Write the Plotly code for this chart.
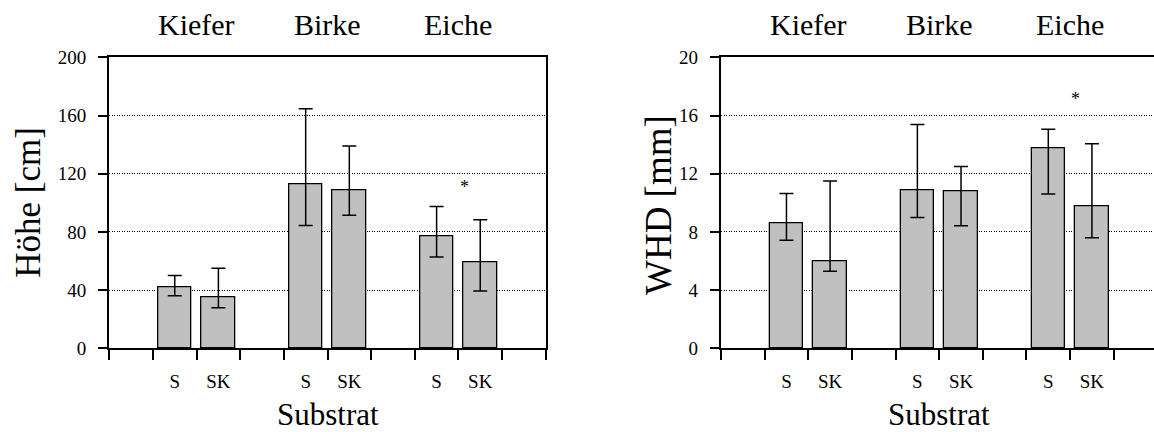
import plotly.graph_objects as go

# ---- data ----
groups = ["Kiefer", "Birke", "Eiche"]
substrates = ["S", "SK"]

hoehe_mean = [42, 35, 113, 108.5, 77, 59]
hoehe_upper = [50, 55, 164.7, 139, 97.5, 88.3]
hoehe_lower = [36.2, 27.8, 84.4, 91.5, 62.8, 39.4]

whd_mean = [8.6, 6.0, 10.87, 10.76, 13.78, 9.79]
whd_upper = [10.64, 11.49, 15.39, 12.5, 15.05, 14.06]
whd_lower = [7.43, 5.3, 8.99, 8.42, 10.6, 7.59]

hoehe_ticks = [0, 40, 80, 120, 160, 200]
whd_ticks = [0, 4, 8, 12, 16, 20]

# significance markers: (group index, value)
hoehe_sig = [(2, 111)]
whd_sig = [(2, 17.1)]

# ---- layout helpers ----
W, H = 1154, 432
FONT = "Liberation Serif, Times New Roman, serif"
slot_px = 43.64
left_x0, right_x0 = 109.3, 721.0
y_top, y_bot = 57.3, 348.3

# slot positions: each group takes 3 slots, bars in the 2nd and 3rd slot
xpos = []
labels = []
for g in range(len(groups)):
    for s, name in enumerate(substrates):
        xpos.append(1.5 + 3 * g + s)
        labels.append(name)
group_centers = [2 + 3 * g for g in range(len(groups))]
boundaries = list(range(0, 11))

fig = go.Figure()


def add_panel(mean, upper, lower, xa, ya):
    plus = [u - m for u, m in zip(upper, mean)]
    minus = [m - l for m, l in zip(mean, lower)]
    fig.add_trace(go.Bar(
        x=xpos, y=mean, width=0.77, xaxis=xa, yaxis=ya,
        marker=dict(color="#c0c0c0", line=dict(color="black", width=1.3)),
        error_y=dict(type="data", symmetric=False, array=plus, arrayminus=minus,
                     color="black", thickness=1.5, width=7),
        showlegend=False, hoverinfo="skip",
    ))


add_panel(hoehe_mean, hoehe_upper, hoehe_lower, "x", "y")
add_panel(whd_mean, whd_upper, whd_lower, "x2", "y2")

ydom = [1 - y_bot / H, 1 - y_top / H]
xdom1 = [left_x0 / W, (left_x0 + 10 * slot_px) / W]
xdom2 = [right_x0 / W, 1.0]
xrange2 = [0, (W - right_x0) / slot_px]

tickfont = dict(family=FONT, size=19, color="black")
xaxis_common = dict(
    showline=True, linecolor="black", linewidth=1.6,
    tickmode="array", tickvals=xpos, ticktext=labels, ticks="",
    ticklabelstandoff=15, automargin=False,
    tickfont=tickfont,
    minor=dict(tickmode="array", tickvals=boundaries, ticks="outside",
               ticklen=9.5, tickwidth=1.5, tickcolor="black", showgrid=False),
    showgrid=False, zeroline=False, fixedrange=True,
)
yaxis_common = dict(
    showline=True, linecolor="black", linewidth=1.6,
    ticks="outside", ticklen=9.5, tickwidth=1.5, tickcolor="black",
    tickfont=tickfont, automargin=False,
    showgrid=True, gridcolor="black", griddash="1px,1.5px", gridwidth=1,
    zeroline=False, ticklabelstandoff=8, fixedrange=True,
)

fig.update_layout(
    width=W, height=H,
    margin=dict(l=0, r=0, t=0, b=0, autoexpand=False),
    font=dict(family=FONT, size=19, color="black"),
    paper_bgcolor="white", plot_bgcolor="white",
    bargap=0,
    xaxis=dict(domain=xdom1, range=[0, 10], anchor="y", mirror=True, **xaxis_common),
    yaxis=dict(domain=ydom, range=[0, 200], anchor="x", mirror=True,
               tickvals=hoehe_ticks, **yaxis_common),
    xaxis2=dict(domain=xdom2, range=xrange2, anchor="y2", mirror=True, **xaxis_common),
    yaxis2=dict(domain=ydom, range=[0, 20], anchor="x2", mirror=False,
                tickvals=whd_ticks, **yaxis_common),
)

ann = []
for xa, ya in (("x", "y"), ("x2", "y2")):
    for g, name in enumerate(groups):
        ann.append(dict(x=group_centers[g], xref=xa, y=1 - 25 / H, yref="paper",
                        text=name, showarrow=False, xanchor="center", yanchor="middle",
                        font=dict(family=FONT, size=30, color="black")))
    ann.append(dict(x=5, xref=xa, y=1 - 414 / H, yref="paper", text="Substrat",
                    showarrow=False, xanchor="center", yanchor="middle",
                    font=dict(family=FONT, size=31, color="black")))

for (g, v), xa, ya in ((hoehe_sig[0], "x", "y"), (whd_sig[0], "x2", "y2")):
    ann.append(dict(x=group_centers[g] + 0.13, xref=xa, y=v, yref=ya, text="*",
                    showarrow=False, xanchor="center", yanchor="middle",
                    font=dict(family=FONT, size=18, color="black")))

ymid = (ydom[0] + ydom[1]) / 2
ann.append(dict(x=29 / W, xref="paper", y=ymid, yref="paper", text="Höhe [cm]",
                textangle=-90, showarrow=False, xanchor="center", yanchor="middle",
                font=dict(family=FONT, size=35, color="black")))
ann.append(dict(x=659 / W, xref="paper", y=1 - 205 / H, yref="paper", text="WHD [mm]",
                textangle=-90, showarrow=False, xanchor="center", yanchor="middle",
                font=dict(family=FONT, size=37, color="black")))
fig.update_layout(annotations=ann)

fig.write_html("out.html")
